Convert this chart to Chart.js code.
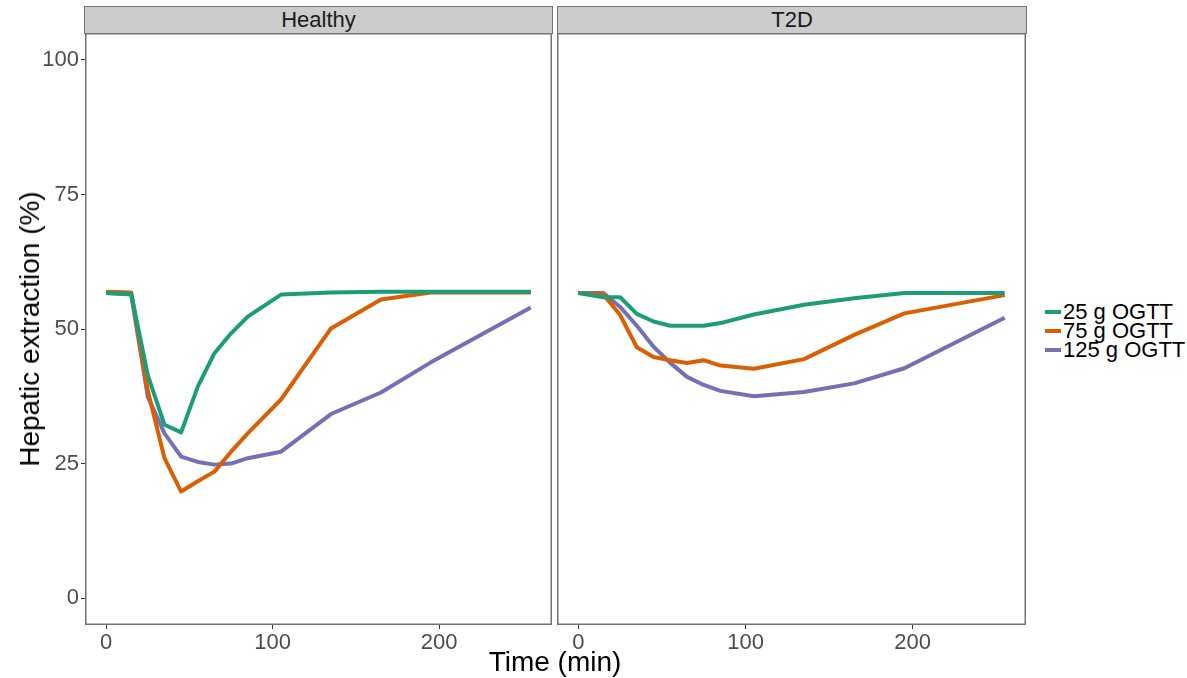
<!DOCTYPE html>
<html>
<head>
<meta charset="utf-8">
<script src="https://cdn.jsdelivr.net/npm/chart.js@4.4.1/dist/chart.umd.min.js"></script>
<style>
  body { margin: 0; background: #fff; font-family: "Liberation Sans", Arial, sans-serif; }
  #wrap { position: relative; width: 1187px; height: 678px; overflow: hidden; }
  .panel { position: absolute; top: 33px; }
  .strip { position: absolute; top: 6px; height: 28px; background: #cccccc; border: 1.5px solid #737373;
           box-sizing: border-box; text-align: center; font-size: 22px; line-height: 26px; color: #1a1a1a; }
  #ytitle { position: absolute; left: 30px; top: 329px; transform: translate(-50%, -50%) rotate(-90deg);
            font-size: 28px; white-space: nowrap; color: #000; }
  #xtitle { position: absolute; left: 555px; top: 662px; transform: translate(-50%, -50%);
            font-size: 28px; white-space: nowrap; color: #000; }
  #legend { position: absolute; left: 1045px; top: 302px; font-size: 22px; line-height: 19px; color: #000; }
  #legend div { white-space: nowrap; }
  #legend span.key { display: inline-block; width: 16px; height: 4px; vertical-align: middle; margin-right: 2px; margin-top: -3px; }
</style>
</head>
<body>
<div id="wrap">
  <div class="strip" style="left:84px; width:469px;">Healthy</div>
  <div class="strip" style="left:557px; width:470px;">T2D</div>
  <div class="panel" style="left:0px;"><canvas id="c1" width="554" height="645"></canvas></div>
  <div class="panel" style="left:557px;"><canvas id="c2" width="471" height="645"></canvas></div>
  <div id="ytitle">Hepatic extraction (%)</div>
  <div id="xtitle">Time (min)</div>
  <div id="legend"></div>
</div>
<script>
// data
var times = [0, 15, 25, 35, 45, 55, 65, 75, 85, 105, 135, 165, 195, 255];
var seriesNames = ['25 g OGTT', '75 g OGTT', '125 g OGTT'];
var seriesColors = ['#1B9E77', '#D95F02', '#7570B3'];

var healthy25  = [56.7, 56.5, 41.4, 32.2, 30.8, 39.3, 45.5, 49.2, 52.3, 56.4, 56.8, 56.9, 56.9, 56.9];
var healthy75  = [56.9, 56.8, 38.5, 26.0, 19.8, 21.7, 23.5, 27.2, 30.6, 36.9, 50.1, 55.5, 56.8, 56.8];
var healthy125 = [56.7, 56.4, 37.4, 30.6, 26.3, 25.3, 24.8, 25.0, 26.0, 27.2, 34.2, 38.2, 43.8, 54.0];

var t2d25  = [56.7, 55.9, 55.9, 52.8, 51.4, 50.6, 50.6, 50.6, 51.1, 52.7, 54.5, 55.7, 56.7, 56.7];
var t2d75  = [56.7, 56.4, 52.6, 46.6, 44.8, 44.2, 43.7, 44.2, 43.2, 42.6, 44.4, 48.9, 52.9, 56.3];
var t2d125 = [56.7, 56.7, 54.1, 50.6, 46.7, 43.7, 41.1, 39.6, 38.5, 37.5, 38.3, 39.9, 42.7, 52.1];

var xTicks = [0, 100, 200];
var yTicks = [0, 25, 50, 75, 100];

function toPoints(vals) {
  return vals.map(function (v, i) { return { x: times[i], y: v }; });
}

function makeSets(list) {
  return list.map(function (vals, i) {
    return {
      label: seriesNames[i],
      data: toPoints(vals),
      borderColor: seriesColors[i],
      backgroundColor: seriesColors[i],
      borderWidth: 4,
      borderJoinStyle: 'round',
      pointRadius: 0,
      tension: 0,
      fill: false
    };
  });
}

var panelBorder = {
  id: 'panelBorder',
  afterDraw: function (chart) {
    var a = chart.chartArea, ctx = chart.ctx;
    ctx.save();
    ctx.strokeStyle = '#737373';
    ctx.lineWidth = 1.5;
    ctx.strokeRect(a.left + 0.75, a.top + 0.75, a.right - a.left - 1.5, a.bottom - a.top - 1.5);
    ctx.restore();
  }
};

function options(showY) {
  return {
    responsive: false,
    animation: false,
    layout: { padding: { left: 0, right: 2, top: 0, bottom: 0 } },
    plugins: { legend: { display: false }, tooltip: { enabled: false } },
    scales: {
      x: {
        type: 'linear',
        min: -12.75,
        max: 267.75,
        afterBuildTicks: function (s) { s.ticks = xTicks.map(function (v) { return { value: v }; }); },
        afterFit: function (s) { s.height = 53; s.paddingLeft = 0; s.paddingRight = 0; },
        border: { display: false },
        grid: { drawOnChartArea: false, drawTicks: true, tickLength: 4, color: '#333333' },
        ticks: { color: '#4D4D4D', font: { family: 'Liberation Sans', size: 22 }, padding: 1, maxRotation: 0 }
      },
      y: {
        display: showY,
        min: -5,
        max: 105,
        afterBuildTicks: function (s) { s.ticks = yTicks.map(function (v) { return { value: v }; }); },
        afterFit: function (s) { s.width = showY ? 85 : 0; s.paddingTop = 0; s.paddingBottom = 0; },
        border: { display: false },
        grid: { drawOnChartArea: false, drawTicks: true, tickLength: 4, color: '#333333' },
        ticks: { color: '#4D4D4D', font: { family: 'Liberation Sans', size: 22 }, padding: 2 }
      }
    }
  };
}

new Chart(document.getElementById('c1').getContext('2d'), {
  type: 'line',
  data: { datasets: makeSets([healthy25, healthy75, healthy125]) },
  options: options(true),
  plugins: [panelBorder]
});

new Chart(document.getElementById('c2').getContext('2d'), {
  type: 'line',
  data: { datasets: makeSets([t2d25, t2d75, t2d125]) },
  options: options(false),
  plugins: [panelBorder]
});

// legend
seriesNames.forEach(function (name, i) {
  var row = document.createElement('div');
  row.innerHTML = '<span class="key" style="background:' + seriesColors[i] + '"></span>' + name;
  document.getElementById('legend').appendChild(row);
});
</script>
</body>
</html>
